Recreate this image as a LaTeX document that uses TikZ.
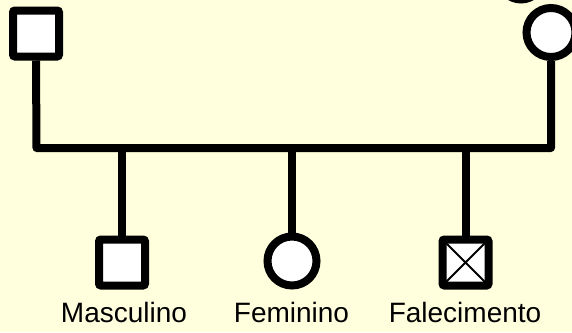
\documentclass[tikz,border=0pt]{standalone}
\usepackage{fontspec}
\setmainfont{Liberation Sans}
\definecolor{bgyellow}{HTML}{FFFFDE}
\tikzset{
  male/.style={draw=black, fill=white, line width=8pt, rectangle, rounded corners=2pt,
    minimum width=46pt, minimum height=46pt, inner sep=0pt},
  female/.style={draw=black, fill=white, line width=8pt, circle,
    minimum size=49pt, inner sep=0pt},
  link/.style={draw=black, line width=8pt, line join=round},
  lbl/.style={font=\fontsize{28pt}{30pt}\selectfont, anchor=base, inner sep=0pt},
}
\begin{document}
\begin{tikzpicture}[x=1pt, y=-1pt]
\useasboundingbox (0,0) rectangle (572,332);
\fill[bgyellow] (0,0) rectangle (572,332);
\begin{scope}
\clip (0,0) rectangle (572,332);
% partial circle cut off at top
\draw[line width=8pt] (521,-22) circle[radius=21.5pt];
% parents
\node[male] (father) at (36,33.5) {};
\node[female] (mother) at (551,32.5) {};
\coordinate (barL) at (36.5,148);
\coordinate (barR) at (551,148);
\draw[link] (father.south) -- (barL) -- (barR) -- (mother.south);
% children
\node[male] (son) at (122,262.5) {};
\node[female] (daughter) at (292,261) {};
\node[male, path picture={
  \draw[line width=2pt] (path picture bounding box.north west) -- (path picture bounding box.south east)
    (path picture bounding box.north east) -- (path picture bounding box.south west);}] (dead) at (465.5,262.5) {};
\draw[link] (son.north) -- (son |- barL);
\draw[link] (daughter.north) -- (daughter |- barL);
\draw[link] (dead.north) -- (dead |- barL);
% labels
\node[lbl] (lson) at (124,322) {Masculino};
\node[lbl] (ldaughter) at (291.5,322) {Feminino};
\node[lbl] (ldead) at (465,322) {Falecimento};
\end{scope}
\end{tikzpicture}
\end{document}
